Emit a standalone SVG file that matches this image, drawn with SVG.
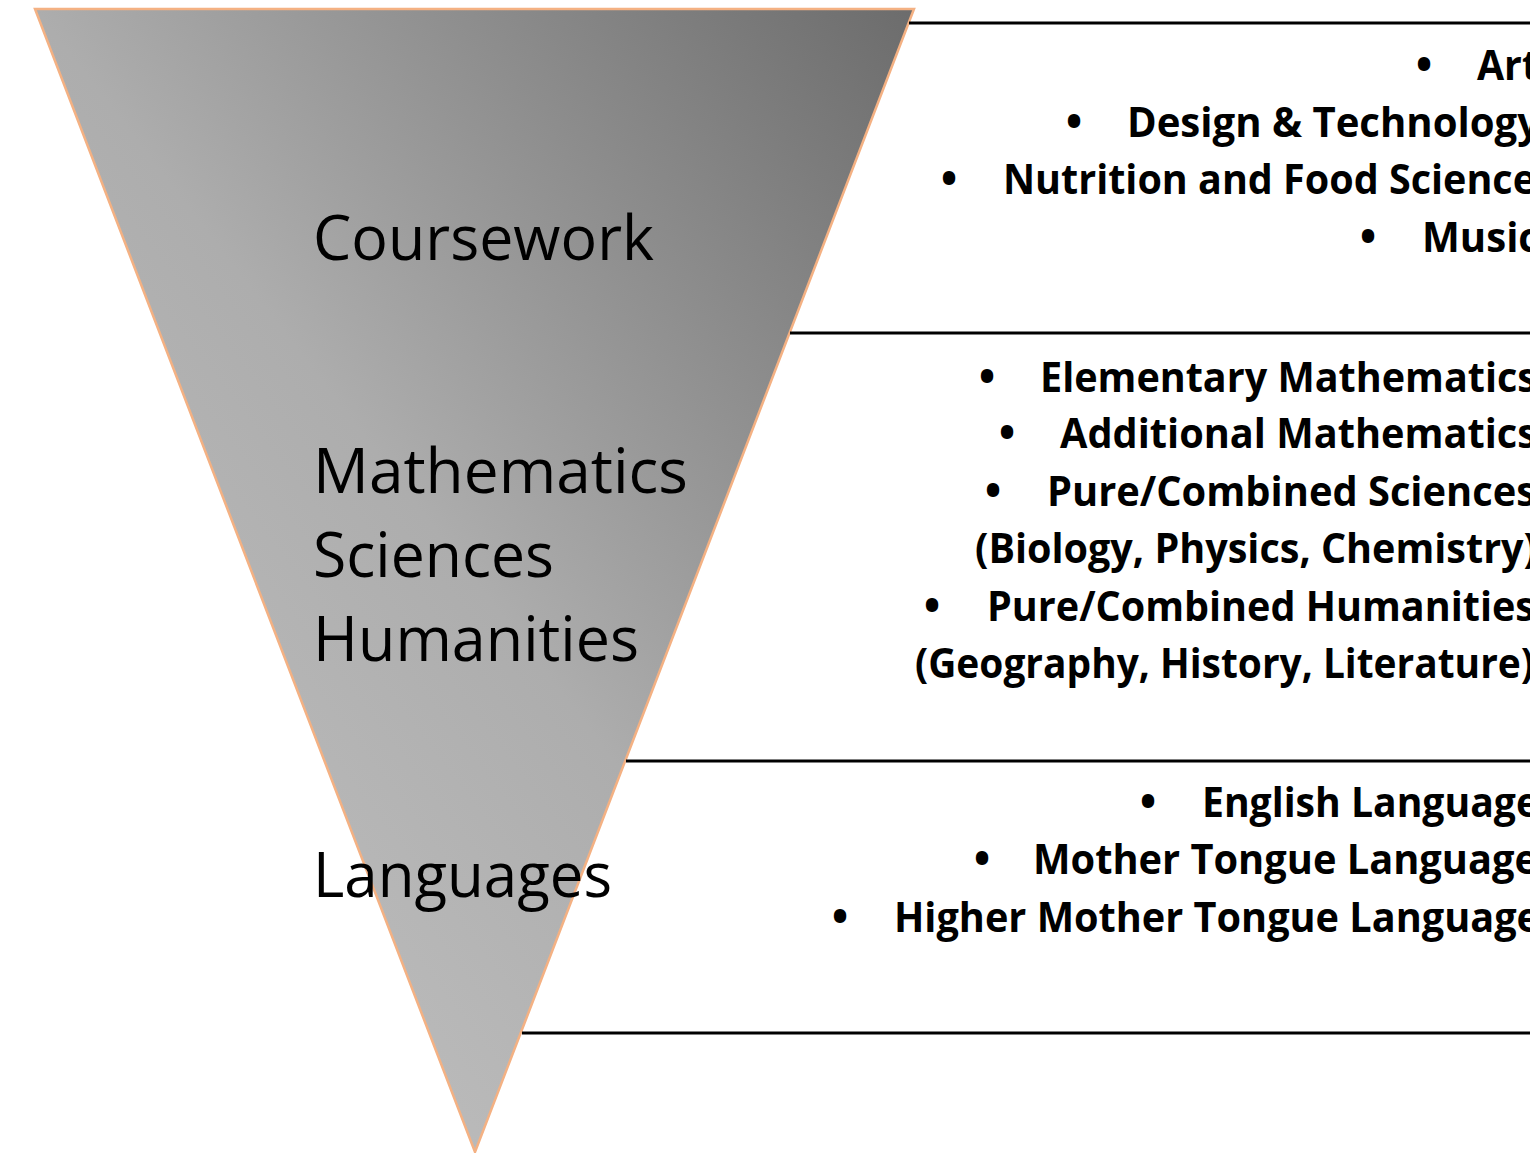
<svg xmlns="http://www.w3.org/2000/svg" width="1530" height="1153" viewBox="0 0 1530 1153">
<style>
.lbl{font-family:"Open Sans","Noto Sans","Liberation Sans",sans-serif;font-size:63px;fill:#000}
.itm{font-family:"Open Sans","Noto Sans","Liberation Sans",sans-serif;font-weight:bold;font-size:42px;fill:#000}
.bul{font-family:"Open Sans","Noto Sans","Liberation Sans",sans-serif;font-weight:bold;font-size:44px;fill:#000;text-anchor:middle}
.rule{stroke:#000;stroke-width:3;fill:none}
</style>
<defs>
<linearGradient id="g" x1="1" y1="0" x2="0" y2="1">
<stop offset="0" stop-color="#6c6c6c"/>
<stop offset="0.5" stop-color="#adadad"/>
<stop offset="1" stop-color="#c6c6c6"/>
</linearGradient>
</defs>
<rect width="1530" height="1153" fill="#fff"/>
<g id="funnel">
<polygon points="35,9 914,9 475,1152" fill="url(#g)" stroke="#f4b183" stroke-width="2.5" stroke-linejoin="miter"/>
</g>
<g id="connectors">
<line class="rule" x1="909" y1="23" x2="1530" y2="23"/>
<line class="rule" x1="790" y1="333" x2="1530" y2="333"/>
<line class="rule" x1="626" y1="761" x2="1530" y2="761"/>
<line class="rule" x1="522" y1="1033" x2="1530" y2="1033"/>
</g>
<g id="tier-coursework">
<text class="lbl" x="313" y="260" textLength="341" lengthAdjust="spacingAndGlyphs">Coursework</text>
</g>
<g id="tier-core">
<text class="lbl" x="313" y="493" textLength="375" lengthAdjust="spacingAndGlyphs">Mathematics</text>
<text class="lbl" x="313" y="577" textLength="241" lengthAdjust="spacingAndGlyphs">Sciences</text>
<text class="lbl" x="313" y="661" textLength="326" lengthAdjust="spacingAndGlyphs">Humanities</text>
</g>
<g id="tier-languages">
<text class="lbl" x="313" y="897" textLength="299" lengthAdjust="spacingAndGlyphs">Languages</text>
</g>
<g id="list-coursework">
<text class="bul" x="1424" y="80">•</text>
<text class="itm" x="1477" y="80" textLength="62" lengthAdjust="spacingAndGlyphs">Art</text>
<text class="bul" x="1074" y="137">•</text>
<text class="itm" x="1127" y="137" textLength="413" lengthAdjust="spacingAndGlyphs">Design &amp; Technology</text>
<text class="bul" x="949" y="194">•</text>
<text class="itm" x="1003" y="194" textLength="533" lengthAdjust="spacingAndGlyphs">Nutrition and Food Science</text>
<text class="bul" x="1368" y="252">•</text>
<text class="itm" x="1422" y="252" textLength="117" lengthAdjust="spacingAndGlyphs">Music</text>
</g>
<g id="list-core">
<text class="bul" x="987" y="392">•</text>
<text class="itm" x="1040" y="392" textLength="497" lengthAdjust="spacingAndGlyphs">Elementary Mathematics</text>
<text class="bul" x="1007" y="448">•</text>
<text class="itm" x="1060" y="448" textLength="477" lengthAdjust="spacingAndGlyphs">Additional Mathematics</text>
<text class="bul" x="993" y="506">•</text>
<text class="itm" x="1047" y="506" textLength="489" lengthAdjust="spacingAndGlyphs">Pure/Combined Sciences</text>
<text class="itm" x="975" y="563" textLength="562" lengthAdjust="spacingAndGlyphs">(Biology, Physics, Chemistry)</text>
<text class="bul" x="932" y="621">•</text>
<text class="itm" x="987" y="621" textLength="548" lengthAdjust="spacingAndGlyphs">Pure/Combined Humanities</text>
<text class="itm" x="915" y="678" textLength="619" lengthAdjust="spacingAndGlyphs">(Geography, History, Literature)</text>
</g>
<g id="list-languages">
<text class="bul" x="1148" y="817">•</text>
<text class="itm" x="1202" y="817" textLength="337" lengthAdjust="spacingAndGlyphs">English Language</text>
<text class="bul" x="982" y="874">•</text>
<text class="itm" x="1033" y="874" textLength="505" lengthAdjust="spacingAndGlyphs">Mother Tongue Language</text>
<text class="bul" x="840" y="932">•</text>
<text class="itm" x="894" y="932" textLength="646" lengthAdjust="spacingAndGlyphs">Higher Mother Tongue Language</text>
</g>
</svg>
